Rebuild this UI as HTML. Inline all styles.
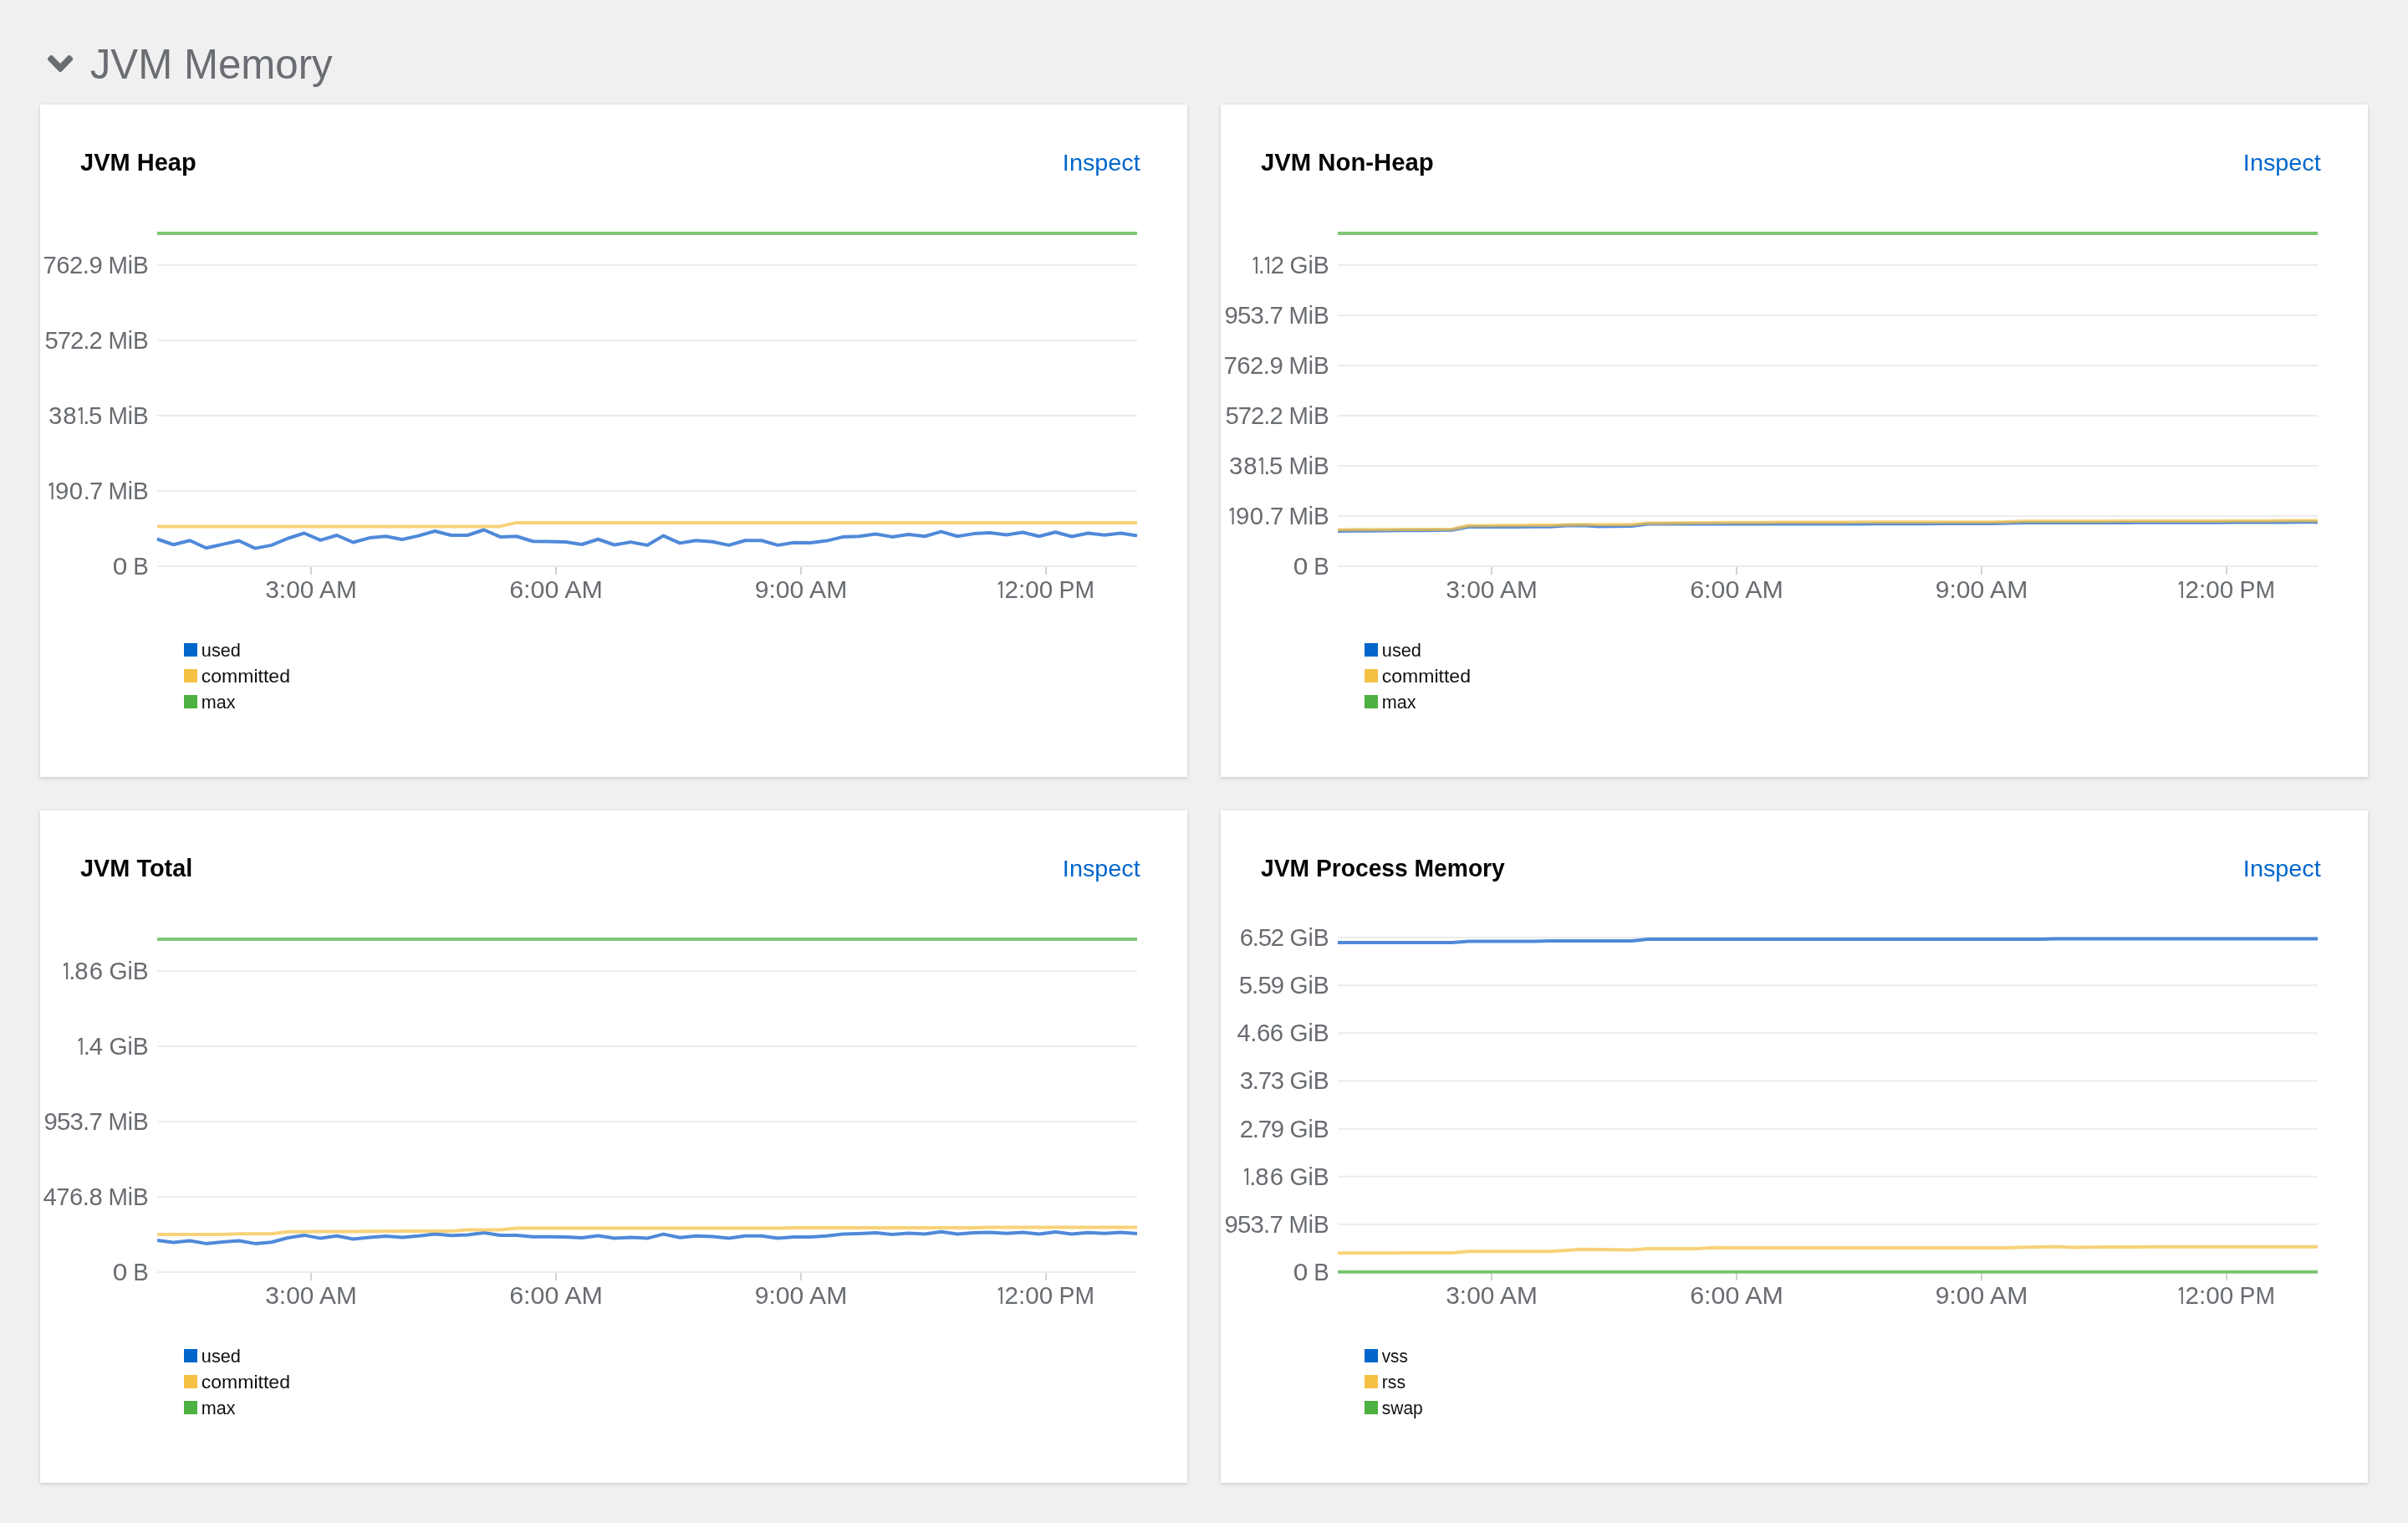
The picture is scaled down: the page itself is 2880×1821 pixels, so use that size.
<!DOCTYPE html>
<html><head><meta charset="utf-8"><title>JVM Memory</title>
<style>
html,body{margin:0;padding:0;}
body{width:2880px;height:1821px;background:#f0f0f0;position:relative;overflow:hidden;font-family:"Liberation Sans", sans-serif;}
.card{position:absolute;width:1372px;height:804px;background:#fff;box-shadow:0 2px 4px 0 rgba(3,3,3,.12),0 0 4px 0 rgba(3,3,3,.06);}
svg{position:absolute;left:0;top:0;will-change:transform;}
text{font-family:"Liberation Sans", sans-serif;}
.yl{font-size:29.3px;fill:#686c71;}
.xl{font-size:29px;fill:#686c71;}
.lg{font-size:22.7px;fill:#101010;}
.tt{font-size:29px;font-weight:bold;fill:#050505;}
.ins{font-size:28px;fill:#0066cc;}
.hd{font-size:49.5px;fill:#6a6e73;}
</style></head><body>

<div class="card" style="left:48px;top:125px"></div>
<div class="card" style="left:1460px;top:125px"></div>
<div class="card" style="left:48px;top:969px"></div>
<div class="card" style="left:1460px;top:969px"></div>
<svg width="2880" height="1821" viewBox="0 0 2880 1821">
<svg x="57" y="66" width="30.2" height="20.1" viewBox="0 153 320 206" preserveAspectRatio="none"><path fill="#6a6e73" d="M143 352.3L7 216.3c-9.4-9.4-9.4-24.6 0-33.9l22.6-22.6c9.4-9.4 24.6-9.4 33.9 0l96.4 96.4 96.4-96.4c9.4-9.4 24.6-9.4 33.9 0l22.6 22.6c9.4 9.4 9.4 24.6 0 33.9l-136 136c-9.2 9.4-24.4 9.4-33.8 0z"/></svg>
<text id="t1" x="107.75" y="93.75" class="hd" textLength="289.96" lengthAdjust="spacingAndGlyphs">JVM Memory</text>
<text id="t2" x="96.00" y="203.75" class="tt" textLength="138.61" lengthAdjust="spacingAndGlyphs">JVM Heap</text>
<text id="t3" x="1363.75" y="203.75" class="ins" text-anchor="end" textLength="92.86" lengthAdjust="spacingAndGlyphs">Inspect</text>
<text id="t4" x="1508.00" y="203.75" class="tt" textLength="206.65" lengthAdjust="spacingAndGlyphs">JVM Non-Heap</text>
<text id="t5" x="2775.75" y="203.75" class="ins" text-anchor="end" textLength="92.86" lengthAdjust="spacingAndGlyphs">Inspect</text>
<text id="t6" x="96.00" y="1047.75" class="tt" textLength="134.31" lengthAdjust="spacingAndGlyphs">JVM Total</text>
<text id="t7" x="1363.75" y="1047.75" class="ins" text-anchor="end" textLength="92.86" lengthAdjust="spacingAndGlyphs">Inspect</text>
<text id="t8" x="1508.00" y="1047.75" class="tt" textLength="291.82" lengthAdjust="spacingAndGlyphs">JVM Process Memory</text>
<text id="t9" x="2775.75" y="1047.75" class="ins" text-anchor="end" textLength="92.86" lengthAdjust="spacingAndGlyphs">Inspect</text>
<rect x="188" y="676.00" width="1172" height="2" fill="#ececec"/>
<text id="t10" x="177.75" y="687.00" class="yl" text-anchor="end" textLength="18.49" lengthAdjust="spacingAndGlyphs">B</text>
<text id="t11" x="152.35" y="687.00" class="yl" text-anchor="end" textLength="17.62" lengthAdjust="spacingAndGlyphs">0</text>
<rect x="188" y="586.00" width="1172" height="2" fill="#ececec"/>
<text id="t12" x="177.75" y="597.00" class="yl" text-anchor="end" textLength="48.37" lengthAdjust="spacingAndGlyphs">MiB</text>
<g transform="translate(58.30,597.00)" fill="none" stroke="#686c71"><path d="M4.3,-19.9 V0" stroke-width="2.1"/><path d="M4.6,-19.2 C3.0,-19.0 1.5,-18.1 0.8,-16.1" stroke-width="2.0"/></g><text x="65.95" y="597.00" class="yl">9</text><text x="82.80" y="597.00" class="yl">0</text><text x="99.65" y="597.00" class="yl">.</text><text x="107.00" y="597.00" class="yl">7</text>
<rect x="188" y="496.00" width="1172" height="2" fill="#ececec"/>
<text id="t13" x="177.75" y="507.00" class="yl" text-anchor="end" textLength="48.37" lengthAdjust="spacingAndGlyphs">MiB</text>
<text x="58.10" y="507.00" class="yl">3</text><text x="75.25" y="507.00" class="yl">8</text><g transform="translate(93.40,507.00)" fill="none" stroke="#686c71"><path d="M4.3,-19.9 V0" stroke-width="2.1"/><path d="M4.6,-19.2 C3.0,-19.0 1.5,-18.1 0.8,-16.1" stroke-width="2.0"/></g><text x="99.35" y="507.00" class="yl">.</text><text x="106.00" y="507.00" class="yl">5</text>
<rect x="188" y="406.00" width="1172" height="2" fill="#ececec"/>
<text id="t14" x="177.75" y="417.00" class="yl" text-anchor="end" textLength="48.37" lengthAdjust="spacingAndGlyphs">MiB</text>
<text id="t15" x="122.75" y="417.00" class="yl" text-anchor="end" textLength="69.20" lengthAdjust="spacing">572.2</text>
<rect x="188" y="316.00" width="1172" height="2" fill="#ececec"/>
<text id="t16" x="177.75" y="327.00" class="yl" text-anchor="end" textLength="48.37" lengthAdjust="spacingAndGlyphs">MiB</text>
<text id="t17" x="122.75" y="327.00" class="yl" text-anchor="end" textLength="71.26" lengthAdjust="spacing">762.9</text>
<rect x="371.00" y="678.00" width="2" height="9" fill="#d2d2d2"/>
<text id="t18" x="372.00" y="715.00" class="xl" text-anchor="middle" textLength="109.52" lengthAdjust="spacingAndGlyphs">3:00 AM</text>
<rect x="664.00" y="678.00" width="2" height="9" fill="#d2d2d2"/>
<text id="t19" x="665.00" y="715.00" class="xl" text-anchor="middle" textLength="111.58" lengthAdjust="spacingAndGlyphs">6:00 AM</text>
<rect x="957.00" y="678.00" width="2" height="9" fill="#d2d2d2"/>
<text id="t20" x="958.00" y="715.00" class="xl" text-anchor="middle" textLength="110.56" lengthAdjust="spacingAndGlyphs">9:00 AM</text>
<rect x="1250.00" y="678.00" width="2" height="9" fill="#d2d2d2"/>
<g transform="translate(1193.50,715.00)" fill="none" stroke="#686c71"><path d="M4.3,-19.9 V0" stroke-width="2.1"/><path d="M4.6,-19.2 C3.0,-19.0 1.5,-18.1 0.8,-16.1" stroke-width="2.0"/></g>
<text id="t21" x="1201.50" y="715.00" class="xl" textLength="57.59" lengthAdjust="spacingAndGlyphs">2:00</text>
<text id="t22" x="1266.50" y="715.00" class="xl" textLength="42.45" lengthAdjust="spacingAndGlyphs">PM</text>
<polyline points="188.00,644.50 207.53,651.25 227.07,646.25 246.60,655.25 266.13,650.90 285.67,646.50 305.20,655.60 324.73,651.90 344.27,643.75 363.80,637.50 383.33,645.90 402.87,640.00 422.40,648.50 441.93,643.10 461.47,641.25 481.00,645.00 500.53,640.60 520.07,635.00 539.60,640.00 559.13,640.00 578.67,633.50 598.20,641.90 617.73,641.25 637.27,647.25 656.80,647.50 676.33,648.10 695.87,651.00 715.40,644.75 734.93,651.50 754.47,648.10 774.00,651.90 793.53,640.60 813.07,649.40 832.60,646.25 852.13,647.75 871.67,651.90 891.20,646.25 910.73,646.25 930.27,651.90 949.80,648.75 969.33,649.00 988.87,646.60 1008.40,641.90 1027.93,641.25 1047.47,638.50 1067.00,641.90 1086.53,639.00 1106.07,641.25 1125.60,635.60 1145.13,641.25 1164.67,638.10 1184.20,636.90 1203.73,639.40 1223.27,636.50 1242.80,641.25 1262.33,636.25 1281.87,641.50 1301.40,637.50 1320.93,639.75 1340.47,637.50 1360.00,640.60" fill="none" stroke="#0b5ccb" stroke-opacity="0.72" stroke-width="4" stroke-linejoin="round" stroke-linecap="butt"/>
<polyline points="188.00,629.40 207.53,629.40 227.07,629.40 246.60,629.40 266.13,629.40 285.67,629.40 305.20,629.40 324.73,629.40 344.27,629.40 363.80,629.40 383.33,629.40 402.87,629.40 422.40,629.40 441.93,629.40 461.47,629.40 481.00,629.40 500.53,629.40 520.07,629.40 539.60,629.40 559.13,629.40 578.67,629.40 598.20,629.40 617.73,624.90 637.27,624.90 656.80,624.90 676.33,624.90 695.87,624.90 715.40,624.90 734.93,624.90 754.47,624.90 774.00,624.90 793.53,624.90 813.07,624.90 832.60,624.90 852.13,624.90 871.67,624.90 891.20,624.90 910.73,624.90 930.27,624.90 949.80,624.90 969.33,624.90 988.87,624.90 1008.40,624.90 1027.93,624.90 1047.47,624.90 1067.00,624.90 1086.53,624.90 1106.07,624.90 1125.60,624.90 1145.13,624.90 1164.67,624.90 1184.20,624.90 1203.73,624.90 1223.27,624.90 1242.80,624.90 1262.33,624.90 1281.87,624.90 1301.40,624.90 1320.93,624.90 1340.47,624.90 1360.00,624.90" fill="none" stroke="#f4c145" stroke-opacity="0.72" stroke-width="4" stroke-linejoin="round" stroke-linecap="butt"/>
<polyline points="188.00,279.00 207.53,279.00 227.07,279.00 246.60,279.00 266.13,279.00 285.67,279.00 305.20,279.00 324.73,279.00 344.27,279.00 363.80,279.00 383.33,279.00 402.87,279.00 422.40,279.00 441.93,279.00 461.47,279.00 481.00,279.00 500.53,279.00 520.07,279.00 539.60,279.00 559.13,279.00 578.67,279.00 598.20,279.00 617.73,279.00 637.27,279.00 656.80,279.00 676.33,279.00 695.87,279.00 715.40,279.00 734.93,279.00 754.47,279.00 774.00,279.00 793.53,279.00 813.07,279.00 832.60,279.00 852.13,279.00 871.67,279.00 891.20,279.00 910.73,279.00 930.27,279.00 949.80,279.00 969.33,279.00 988.87,279.00 1008.40,279.00 1027.93,279.00 1047.47,279.00 1067.00,279.00 1086.53,279.00 1106.07,279.00 1125.60,279.00 1145.13,279.00 1164.67,279.00 1184.20,279.00 1203.73,279.00 1223.27,279.00 1242.80,279.00 1262.33,279.00 1281.87,279.00 1301.40,279.00 1320.93,279.00 1340.47,279.00 1360.00,279.00" fill="none" stroke="#4cb140" stroke-opacity="0.72" stroke-width="4" stroke-linejoin="round" stroke-linecap="butt"/>
<rect x="220" y="769" width="16" height="16" fill="#0066cc"/>
<text id="t23" x="240.80" y="784.70" class="lg" textLength="47.13" lengthAdjust="spacingAndGlyphs">used</text>
<rect x="220" y="800" width="16" height="16" fill="#f4c145"/>
<text id="t24" x="240.80" y="815.70" class="lg" textLength="106.19" lengthAdjust="spacingAndGlyphs">committed</text>
<rect x="220" y="831" width="16" height="16" fill="#4cb140"/>
<text id="t25" x="240.80" y="846.70" class="lg" textLength="40.81" lengthAdjust="spacingAndGlyphs">max</text>
<rect x="1600" y="676.00" width="1172" height="2" fill="#ececec"/>
<text id="t26" x="1589.75" y="687.00" class="yl" text-anchor="end" textLength="18.49" lengthAdjust="spacingAndGlyphs">B</text>
<text id="t27" x="1564.35" y="687.00" class="yl" text-anchor="end" textLength="17.62" lengthAdjust="spacingAndGlyphs">0</text>
<rect x="1600" y="616.00" width="1172" height="2" fill="#ececec"/>
<text id="t28" x="1589.75" y="627.00" class="yl" text-anchor="end" textLength="48.37" lengthAdjust="spacingAndGlyphs">MiB</text>
<g transform="translate(1470.30,627.00)" fill="none" stroke="#686c71"><path d="M4.3,-19.9 V0" stroke-width="2.1"/><path d="M4.6,-19.2 C3.0,-19.0 1.5,-18.1 0.8,-16.1" stroke-width="2.0"/></g><text x="1477.95" y="627.00" class="yl">9</text><text x="1494.80" y="627.00" class="yl">0</text><text x="1511.65" y="627.00" class="yl">.</text><text x="1519.00" y="627.00" class="yl">7</text>
<rect x="1600" y="556.00" width="1172" height="2" fill="#ececec"/>
<text id="t29" x="1589.75" y="567.00" class="yl" text-anchor="end" textLength="48.37" lengthAdjust="spacingAndGlyphs">MiB</text>
<text x="1470.10" y="567.00" class="yl">3</text><text x="1487.25" y="567.00" class="yl">8</text><g transform="translate(1505.40,567.00)" fill="none" stroke="#686c71"><path d="M4.3,-19.9 V0" stroke-width="2.1"/><path d="M4.6,-19.2 C3.0,-19.0 1.5,-18.1 0.8,-16.1" stroke-width="2.0"/></g><text x="1511.35" y="567.00" class="yl">.</text><text x="1518.00" y="567.00" class="yl">5</text>
<rect x="1600" y="496.00" width="1172" height="2" fill="#ececec"/>
<text id="t30" x="1589.75" y="507.00" class="yl" text-anchor="end" textLength="48.37" lengthAdjust="spacingAndGlyphs">MiB</text>
<text id="t31" x="1534.75" y="507.00" class="yl" text-anchor="end" textLength="69.20" lengthAdjust="spacing">572.2</text>
<rect x="1600" y="436.00" width="1172" height="2" fill="#ececec"/>
<text id="t32" x="1589.75" y="447.00" class="yl" text-anchor="end" textLength="48.37" lengthAdjust="spacingAndGlyphs">MiB</text>
<text id="t33" x="1534.75" y="447.00" class="yl" text-anchor="end" textLength="71.26" lengthAdjust="spacing">762.9</text>
<rect x="1600" y="376.00" width="1172" height="2" fill="#ececec"/>
<text id="t34" x="1589.75" y="387.00" class="yl" text-anchor="end" textLength="48.37" lengthAdjust="spacingAndGlyphs">MiB</text>
<text id="t35" x="1534.75" y="387.00" class="yl" text-anchor="end" textLength="70.23" lengthAdjust="spacing">953.7</text>
<rect x="1600" y="316.00" width="1172" height="2" fill="#ececec"/>
<text id="t36" x="1589.75" y="327.00" class="yl" text-anchor="end" textLength="47.29" lengthAdjust="spacingAndGlyphs">GiB</text>
<g transform="translate(1498.60,327.00)" fill="none" stroke="#686c71"><path d="M4.3,-19.9 V0" stroke-width="2.1"/><path d="M4.6,-19.2 C3.0,-19.0 1.5,-18.1 0.8,-16.1" stroke-width="2.0"/></g><text x="1504.78" y="327.00" class="yl">.</text><g transform="translate(1512.67,327.00)" fill="none" stroke="#686c71"><path d="M4.3,-19.9 V0" stroke-width="2.1"/><path d="M4.6,-19.2 C3.0,-19.0 1.5,-18.1 0.8,-16.1" stroke-width="2.0"/></g><text x="1519.85" y="327.00" class="yl">2</text>
<rect x="1783.00" y="678.00" width="2" height="9" fill="#d2d2d2"/>
<text id="t37" x="1784.00" y="715.00" class="xl" text-anchor="middle" textLength="109.52" lengthAdjust="spacingAndGlyphs">3:00 AM</text>
<rect x="2076.00" y="678.00" width="2" height="9" fill="#d2d2d2"/>
<text id="t38" x="2077.00" y="715.00" class="xl" text-anchor="middle" textLength="111.58" lengthAdjust="spacingAndGlyphs">6:00 AM</text>
<rect x="2369.00" y="678.00" width="2" height="9" fill="#d2d2d2"/>
<text id="t39" x="2370.00" y="715.00" class="xl" text-anchor="middle" textLength="110.56" lengthAdjust="spacingAndGlyphs">9:00 AM</text>
<rect x="2662.00" y="678.00" width="2" height="9" fill="#d2d2d2"/>
<g transform="translate(2605.50,715.00)" fill="none" stroke="#686c71"><path d="M4.3,-19.9 V0" stroke-width="2.1"/><path d="M4.6,-19.2 C3.0,-19.0 1.5,-18.1 0.8,-16.1" stroke-width="2.0"/></g>
<text id="t40" x="2613.50" y="715.00" class="xl" textLength="57.59" lengthAdjust="spacingAndGlyphs">2:00</text>
<text id="t41" x="2678.50" y="715.00" class="xl" textLength="42.45" lengthAdjust="spacingAndGlyphs">PM</text>
<polyline points="1600.00,635.00 1619.53,634.83 1639.07,634.66 1658.60,634.49 1678.13,634.31 1697.67,634.14 1717.20,633.97 1736.73,633.80 1756.27,630.00 1775.80,629.96 1795.33,629.92 1814.87,629.88 1834.40,629.84 1853.93,629.80 1873.47,628.50 1893.00,628.20 1912.53,629.40 1932.07,629.20 1951.60,629.00 1971.13,626.60 1990.67,626.59 2010.20,626.58 2029.73,626.57 2049.27,626.56 2068.80,626.55 2088.33,626.55 2107.87,626.54 2127.40,626.53 2146.93,626.52 2166.47,626.51 2186.00,626.50 2205.53,626.44 2225.07,626.38 2244.60,626.32 2264.13,626.26 2283.67,626.20 2303.20,626.14 2322.73,626.08 2342.27,626.02 2361.80,625.96 2381.33,625.90 2400.87,625.60 2420.40,625.10 2439.93,625.07 2459.47,625.03 2479.00,625.00 2498.53,624.96 2518.07,624.92 2537.60,624.89 2557.13,624.86 2576.67,624.82 2596.20,624.78 2615.73,624.75 2635.27,624.69 2654.80,624.64 2674.33,624.58 2693.87,624.52 2713.40,624.47 2732.93,624.41 2752.47,624.36 2772.00,624.30" fill="none" stroke="#0b5ccb" stroke-opacity="0.72" stroke-width="4" stroke-linejoin="round" stroke-linecap="butt"/>
<polyline points="1600.00,633.40 1619.53,633.31 1639.07,633.23 1658.60,633.14 1678.13,633.06 1697.67,632.97 1717.20,632.89 1736.73,632.80 1756.27,628.50 1775.80,628.40 1795.33,628.30 1814.87,628.20 1834.40,628.10 1853.93,628.00 1873.47,627.60 1893.00,627.20 1912.53,627.20 1932.07,627.20 1951.60,627.20 1971.13,625.60 1990.67,625.40 2010.20,625.20 2029.73,625.00 2049.27,624.92 2068.80,624.85 2088.33,624.77 2107.87,624.70 2127.40,624.62 2146.93,624.55 2166.47,624.48 2186.00,624.40 2205.53,624.38 2225.07,624.37 2244.60,624.36 2264.13,624.34 2283.67,624.33 2303.20,624.31 2322.73,624.29 2342.27,624.28 2361.80,624.26 2381.33,624.25 2400.87,623.90 2420.40,623.30 2439.93,623.27 2459.47,623.24 2479.00,623.21 2498.53,623.18 2518.07,623.15 2537.60,623.12 2557.13,623.09 2576.67,623.06 2596.20,623.03 2615.73,623.00 2635.27,622.94 2654.80,622.88 2674.33,622.81 2693.87,622.75 2713.40,622.69 2732.93,622.62 2752.47,622.56 2772.00,622.50" fill="none" stroke="#f4c145" stroke-opacity="0.72" stroke-width="4" stroke-linejoin="round" stroke-linecap="butt"/>
<polyline points="1600.00,279.00 1619.53,279.00 1639.07,279.00 1658.60,279.00 1678.13,279.00 1697.67,279.00 1717.20,279.00 1736.73,279.00 1756.27,279.00 1775.80,279.00 1795.33,279.00 1814.87,279.00 1834.40,279.00 1853.93,279.00 1873.47,279.00 1893.00,279.00 1912.53,279.00 1932.07,279.00 1951.60,279.00 1971.13,279.00 1990.67,279.00 2010.20,279.00 2029.73,279.00 2049.27,279.00 2068.80,279.00 2088.33,279.00 2107.87,279.00 2127.40,279.00 2146.93,279.00 2166.47,279.00 2186.00,279.00 2205.53,279.00 2225.07,279.00 2244.60,279.00 2264.13,279.00 2283.67,279.00 2303.20,279.00 2322.73,279.00 2342.27,279.00 2361.80,279.00 2381.33,279.00 2400.87,279.00 2420.40,279.00 2439.93,279.00 2459.47,279.00 2479.00,279.00 2498.53,279.00 2518.07,279.00 2537.60,279.00 2557.13,279.00 2576.67,279.00 2596.20,279.00 2615.73,279.00 2635.27,279.00 2654.80,279.00 2674.33,279.00 2693.87,279.00 2713.40,279.00 2732.93,279.00 2752.47,279.00 2772.00,279.00" fill="none" stroke="#4cb140" stroke-opacity="0.72" stroke-width="4" stroke-linejoin="round" stroke-linecap="butt"/>
<rect x="1632" y="769" width="16" height="16" fill="#0066cc"/>
<text id="t42" x="1652.80" y="784.70" class="lg" textLength="47.13" lengthAdjust="spacingAndGlyphs">used</text>
<rect x="1632" y="800" width="16" height="16" fill="#f4c145"/>
<text id="t43" x="1652.80" y="815.70" class="lg" textLength="106.19" lengthAdjust="spacingAndGlyphs">committed</text>
<rect x="1632" y="831" width="16" height="16" fill="#4cb140"/>
<text id="t44" x="1652.80" y="846.70" class="lg" textLength="40.81" lengthAdjust="spacingAndGlyphs">max</text>
<rect x="188" y="1520.00" width="1172" height="2" fill="#ececec"/>
<text id="t45" x="177.75" y="1531.00" class="yl" text-anchor="end" textLength="18.49" lengthAdjust="spacingAndGlyphs">B</text>
<text id="t46" x="152.35" y="1531.00" class="yl" text-anchor="end" textLength="17.62" lengthAdjust="spacingAndGlyphs">0</text>
<rect x="188" y="1430.00" width="1172" height="2" fill="#ececec"/>
<text id="t47" x="177.75" y="1441.00" class="yl" text-anchor="end" textLength="48.37" lengthAdjust="spacingAndGlyphs">MiB</text>
<text id="t48" x="122.75" y="1441.00" class="yl" text-anchor="end" textLength="71.31" lengthAdjust="spacing">476.8</text>
<rect x="188" y="1340.00" width="1172" height="2" fill="#ececec"/>
<text id="t49" x="177.75" y="1351.00" class="yl" text-anchor="end" textLength="48.37" lengthAdjust="spacingAndGlyphs">MiB</text>
<text id="t50" x="122.75" y="1351.00" class="yl" text-anchor="end" textLength="70.23" lengthAdjust="spacing">953.7</text>
<rect x="188" y="1250.00" width="1172" height="2" fill="#ececec"/>
<text id="t51" x="177.75" y="1261.00" class="yl" text-anchor="end" textLength="47.29" lengthAdjust="spacingAndGlyphs">GiB</text>
<g transform="translate(93.30,1261.00)" fill="none" stroke="#686c71"><path d="M4.3,-19.9 V0" stroke-width="2.1"/><path d="M4.6,-19.2 C3.0,-19.0 1.5,-18.1 0.8,-16.1" stroke-width="2.0"/></g><text x="99.72" y="1261.00" class="yl">.</text><text x="106.85" y="1261.00" class="yl">4</text>
<rect x="188" y="1160.00" width="1172" height="2" fill="#ececec"/>
<text id="t52" x="177.75" y="1171.00" class="yl" text-anchor="end" textLength="47.29" lengthAdjust="spacingAndGlyphs">GiB</text>
<g transform="translate(75.80,1171.00)" fill="none" stroke="#686c71"><path d="M4.3,-19.9 V0" stroke-width="2.1"/><path d="M4.6,-19.2 C3.0,-19.0 1.5,-18.1 0.8,-16.1" stroke-width="2.0"/></g><text x="82.18" y="1171.00" class="yl">.</text><text x="89.27" y="1171.00" class="yl">8</text><text x="106.85" y="1171.00" class="yl">6</text>
<rect x="371.00" y="1522.00" width="2" height="9" fill="#d2d2d2"/>
<text id="t53" x="372.00" y="1559.00" class="xl" text-anchor="middle" textLength="109.52" lengthAdjust="spacingAndGlyphs">3:00 AM</text>
<rect x="664.00" y="1522.00" width="2" height="9" fill="#d2d2d2"/>
<text id="t54" x="665.00" y="1559.00" class="xl" text-anchor="middle" textLength="111.58" lengthAdjust="spacingAndGlyphs">6:00 AM</text>
<rect x="957.00" y="1522.00" width="2" height="9" fill="#d2d2d2"/>
<text id="t55" x="958.00" y="1559.00" class="xl" text-anchor="middle" textLength="110.56" lengthAdjust="spacingAndGlyphs">9:00 AM</text>
<rect x="1250.00" y="1522.00" width="2" height="9" fill="#d2d2d2"/>
<g transform="translate(1193.50,1559.00)" fill="none" stroke="#686c71"><path d="M4.3,-19.9 V0" stroke-width="2.1"/><path d="M4.6,-19.2 C3.0,-19.0 1.5,-18.1 0.8,-16.1" stroke-width="2.0"/></g>
<text id="t56" x="1201.50" y="1559.00" class="xl" textLength="57.59" lengthAdjust="spacingAndGlyphs">2:00</text>
<text id="t57" x="1266.50" y="1559.00" class="xl" textLength="42.45" lengthAdjust="spacingAndGlyphs">PM</text>
<polyline points="188.00,1483.10 207.53,1485.60 227.07,1483.50 246.60,1486.90 266.13,1485.00 285.67,1483.50 305.20,1486.90 324.73,1485.25 344.27,1480.00 363.80,1476.90 383.33,1480.60 402.87,1477.75 422.40,1481.50 441.93,1479.40 461.47,1478.10 481.00,1479.40 500.53,1477.75 520.07,1475.60 539.60,1477.25 559.13,1476.50 578.67,1474.00 598.20,1476.90 617.73,1476.90 637.27,1478.75 656.80,1478.75 676.33,1479.00 695.87,1480.00 715.40,1477.50 734.93,1480.60 754.47,1479.40 774.00,1480.60 793.53,1475.60 813.07,1479.75 832.60,1477.75 852.13,1478.50 871.67,1480.60 891.20,1477.75 910.73,1477.75 930.27,1480.60 949.80,1479.00 969.33,1479.00 988.87,1477.75 1008.40,1475.60 1027.93,1475.00 1047.47,1474.00 1067.00,1476.00 1086.53,1474.40 1106.07,1475.60 1125.60,1472.75 1145.13,1475.60 1164.67,1474.00 1184.20,1473.50 1203.73,1474.75 1223.27,1473.50 1242.80,1475.60 1262.33,1473.10 1281.87,1475.60 1301.40,1473.75 1320.93,1474.75 1340.47,1473.50 1360.00,1475.00" fill="none" stroke="#0b5ccb" stroke-opacity="0.72" stroke-width="4" stroke-linejoin="round" stroke-linecap="butt"/>
<polyline points="188.00,1475.90 207.53,1475.90 227.07,1475.90 246.60,1475.90 266.13,1475.90 285.67,1475.25 305.20,1475.25 324.73,1475.25 344.27,1472.75 363.80,1472.70 383.33,1472.60 402.87,1472.50 422.40,1472.40 441.93,1472.30 461.47,1472.20 481.00,1472.10 500.53,1472.10 520.07,1472.10 539.60,1472.10 559.13,1470.60 578.67,1470.60 598.20,1470.60 617.73,1468.60 637.27,1468.60 656.80,1468.60 676.33,1468.60 695.87,1468.60 715.40,1468.60 734.93,1468.60 754.47,1468.60 774.00,1468.60 793.53,1468.60 813.07,1468.60 832.60,1468.60 852.13,1468.60 871.67,1468.60 891.20,1468.60 910.73,1468.60 930.27,1468.60 949.80,1468.00 969.33,1468.00 988.87,1468.00 1008.40,1468.00 1027.93,1468.00 1047.47,1468.00 1067.00,1468.00 1086.53,1468.00 1106.07,1468.00 1125.60,1468.00 1145.13,1468.00 1164.67,1468.00 1184.20,1467.50 1203.73,1467.50 1223.27,1467.50 1242.80,1467.50 1262.33,1467.50 1281.87,1467.50 1301.40,1467.50 1320.93,1467.50 1340.47,1467.50 1360.00,1467.50" fill="none" stroke="#f4c145" stroke-opacity="0.72" stroke-width="4" stroke-linejoin="round" stroke-linecap="butt"/>
<polyline points="188.00,1123.00 207.53,1123.00 227.07,1123.00 246.60,1123.00 266.13,1123.00 285.67,1123.00 305.20,1123.00 324.73,1123.00 344.27,1123.00 363.80,1123.00 383.33,1123.00 402.87,1123.00 422.40,1123.00 441.93,1123.00 461.47,1123.00 481.00,1123.00 500.53,1123.00 520.07,1123.00 539.60,1123.00 559.13,1123.00 578.67,1123.00 598.20,1123.00 617.73,1123.00 637.27,1123.00 656.80,1123.00 676.33,1123.00 695.87,1123.00 715.40,1123.00 734.93,1123.00 754.47,1123.00 774.00,1123.00 793.53,1123.00 813.07,1123.00 832.60,1123.00 852.13,1123.00 871.67,1123.00 891.20,1123.00 910.73,1123.00 930.27,1123.00 949.80,1123.00 969.33,1123.00 988.87,1123.00 1008.40,1123.00 1027.93,1123.00 1047.47,1123.00 1067.00,1123.00 1086.53,1123.00 1106.07,1123.00 1125.60,1123.00 1145.13,1123.00 1164.67,1123.00 1184.20,1123.00 1203.73,1123.00 1223.27,1123.00 1242.80,1123.00 1262.33,1123.00 1281.87,1123.00 1301.40,1123.00 1320.93,1123.00 1340.47,1123.00 1360.00,1123.00" fill="none" stroke="#4cb140" stroke-opacity="0.72" stroke-width="4" stroke-linejoin="round" stroke-linecap="butt"/>
<rect x="220" y="1613" width="16" height="16" fill="#0066cc"/>
<text id="t58" x="240.80" y="1628.70" class="lg" textLength="47.13" lengthAdjust="spacingAndGlyphs">used</text>
<rect x="220" y="1644" width="16" height="16" fill="#f4c145"/>
<text id="t59" x="240.80" y="1659.70" class="lg" textLength="106.19" lengthAdjust="spacingAndGlyphs">committed</text>
<rect x="220" y="1675" width="16" height="16" fill="#4cb140"/>
<text id="t60" x="240.80" y="1690.70" class="lg" textLength="40.81" lengthAdjust="spacingAndGlyphs">max</text>
<rect x="1600" y="1520.00" width="1172" height="2" fill="#ececec"/>
<text id="t61" x="1589.75" y="1531.00" class="yl" text-anchor="end" textLength="18.49" lengthAdjust="spacingAndGlyphs">B</text>
<text id="t62" x="1564.35" y="1531.00" class="yl" text-anchor="end" textLength="17.62" lengthAdjust="spacingAndGlyphs">0</text>
<rect x="1600" y="1462.86" width="1172" height="2" fill="#ececec"/>
<text id="t63" x="1589.75" y="1473.86" class="yl" text-anchor="end" textLength="48.37" lengthAdjust="spacingAndGlyphs">MiB</text>
<text id="t64" x="1534.75" y="1473.86" class="yl" text-anchor="end" textLength="70.23" lengthAdjust="spacing">953.7</text>
<rect x="1600" y="1405.71" width="1172" height="2" fill="#ececec"/>
<text id="t65" x="1589.75" y="1416.71" class="yl" text-anchor="end" textLength="47.29" lengthAdjust="spacingAndGlyphs">GiB</text>
<g transform="translate(1487.80,1416.71)" fill="none" stroke="#686c71"><path d="M4.3,-19.9 V0" stroke-width="2.1"/><path d="M4.6,-19.2 C3.0,-19.0 1.5,-18.1 0.8,-16.1" stroke-width="2.0"/></g><text x="1494.18" y="1416.71" class="yl">.</text><text x="1501.27" y="1416.71" class="yl">8</text><text x="1518.85" y="1416.71" class="yl">6</text>
<rect x="1600" y="1348.57" width="1172" height="2" fill="#ececec"/>
<text id="t66" x="1589.75" y="1359.57" class="yl" text-anchor="end" textLength="47.29" lengthAdjust="spacingAndGlyphs">GiB</text>
<text id="t67" x="1536.10" y="1359.57" class="yl" text-anchor="end" textLength="53.37" lengthAdjust="spacing">2.79</text>
<rect x="1600" y="1291.43" width="1172" height="2" fill="#ececec"/>
<text id="t68" x="1589.75" y="1302.43" class="yl" text-anchor="end" textLength="47.29" lengthAdjust="spacingAndGlyphs">GiB</text>
<text id="t69" x="1536.10" y="1302.43" class="yl" text-anchor="end" textLength="53.38" lengthAdjust="spacing">3.73</text>
<rect x="1600" y="1234.29" width="1172" height="2" fill="#ececec"/>
<text id="t70" x="1589.75" y="1245.29" class="yl" text-anchor="end" textLength="47.29" lengthAdjust="spacingAndGlyphs">GiB</text>
<text id="t71" x="1535.10" y="1245.29" class="yl" text-anchor="end" textLength="55.57" lengthAdjust="spacing">4.66</text>
<rect x="1600" y="1177.14" width="1172" height="2" fill="#ececec"/>
<text id="t72" x="1589.75" y="1188.14" class="yl" text-anchor="end" textLength="47.29" lengthAdjust="spacingAndGlyphs">GiB</text>
<text id="t73" x="1536.10" y="1188.14" class="yl" text-anchor="end" textLength="54.41" lengthAdjust="spacing">5.59</text>
<rect x="1600" y="1120.00" width="1172" height="2" fill="#ececec"/>
<text id="t74" x="1589.75" y="1131.00" class="yl" text-anchor="end" textLength="47.29" lengthAdjust="spacingAndGlyphs">GiB</text>
<text id="t75" x="1536.10" y="1131.00" class="yl" text-anchor="end" textLength="53.37" lengthAdjust="spacing">6.52</text>
<rect x="1783.00" y="1522.00" width="2" height="9" fill="#d2d2d2"/>
<text id="t76" x="1784.00" y="1559.00" class="xl" text-anchor="middle" textLength="109.52" lengthAdjust="spacingAndGlyphs">3:00 AM</text>
<rect x="2076.00" y="1522.00" width="2" height="9" fill="#d2d2d2"/>
<text id="t77" x="2077.00" y="1559.00" class="xl" text-anchor="middle" textLength="111.58" lengthAdjust="spacingAndGlyphs">6:00 AM</text>
<rect x="2369.00" y="1522.00" width="2" height="9" fill="#d2d2d2"/>
<text id="t78" x="2370.00" y="1559.00" class="xl" text-anchor="middle" textLength="110.56" lengthAdjust="spacingAndGlyphs">9:00 AM</text>
<rect x="2662.00" y="1522.00" width="2" height="9" fill="#d2d2d2"/>
<g transform="translate(2605.50,1559.00)" fill="none" stroke="#686c71"><path d="M4.3,-19.9 V0" stroke-width="2.1"/><path d="M4.6,-19.2 C3.0,-19.0 1.5,-18.1 0.8,-16.1" stroke-width="2.0"/></g>
<text id="t79" x="2613.50" y="1559.00" class="xl" textLength="57.59" lengthAdjust="spacingAndGlyphs">2:00</text>
<text id="t80" x="2678.50" y="1559.00" class="xl" textLength="42.45" lengthAdjust="spacingAndGlyphs">PM</text>
<polyline points="1600.00,1127.00 1619.53,1127.00 1639.07,1127.00 1658.60,1127.00 1678.13,1127.00 1697.67,1127.00 1717.20,1127.00 1736.73,1127.00 1756.27,1125.50 1775.80,1125.50 1795.33,1125.50 1814.87,1125.50 1834.40,1125.50 1853.93,1125.00 1873.47,1125.00 1893.00,1125.00 1912.53,1125.00 1932.07,1125.00 1951.60,1125.00 1971.13,1123.00 1990.67,1123.00 2010.20,1123.00 2029.73,1123.00 2049.27,1123.00 2068.80,1123.00 2088.33,1123.00 2107.87,1123.00 2127.40,1123.00 2146.93,1123.00 2166.47,1123.00 2186.00,1123.00 2205.53,1123.00 2225.07,1123.00 2244.60,1123.00 2264.13,1123.00 2283.67,1123.00 2303.20,1123.00 2322.73,1123.00 2342.27,1123.00 2361.80,1123.00 2381.33,1123.00 2400.87,1123.00 2420.40,1123.00 2439.93,1123.00 2459.47,1122.50 2479.00,1122.50 2498.53,1122.50 2518.07,1122.50 2537.60,1122.50 2557.13,1122.50 2576.67,1122.50 2596.20,1122.50 2615.73,1122.50 2635.27,1122.50 2654.80,1122.50 2674.33,1122.50 2693.87,1122.50 2713.40,1122.50 2732.93,1122.50 2752.47,1122.50 2772.00,1122.50" fill="none" stroke="#0b5ccb" stroke-opacity="0.72" stroke-width="4" stroke-linejoin="round" stroke-linecap="butt"/>
<polyline points="1600.00,1498.25 1619.53,1498.25 1639.07,1498.25 1658.60,1498.20 1678.13,1498.10 1697.67,1498.10 1717.20,1498.00 1736.73,1498.00 1756.27,1496.25 1775.80,1496.25 1795.33,1496.25 1814.87,1496.25 1834.40,1496.25 1853.93,1496.25 1873.47,1495.00 1893.00,1493.75 1912.53,1494.00 1932.07,1494.30 1951.60,1494.50 1971.13,1493.00 1990.67,1493.00 2010.20,1493.00 2029.73,1493.00 2049.27,1491.75 2068.80,1492.00 2088.33,1492.00 2107.87,1492.00 2127.40,1492.00 2146.93,1492.00 2166.47,1492.00 2186.00,1492.00 2205.53,1492.00 2225.07,1492.00 2244.60,1492.00 2264.13,1492.00 2283.67,1492.00 2303.20,1492.00 2322.73,1492.00 2342.27,1492.00 2361.80,1492.00 2381.33,1492.00 2400.87,1492.00 2420.40,1491.20 2439.93,1491.00 2459.47,1490.50 2479.00,1491.50 2498.53,1491.30 2518.07,1491.10 2537.60,1491.00 2557.13,1490.90 2576.67,1490.75 2596.20,1490.75 2615.73,1490.75 2635.27,1490.75 2654.80,1490.75 2674.33,1490.75 2693.87,1490.75 2713.40,1490.75 2732.93,1490.75 2752.47,1490.75 2772.00,1490.75" fill="none" stroke="#f4c145" stroke-opacity="0.72" stroke-width="4" stroke-linejoin="round" stroke-linecap="butt"/>
<polyline points="1600.00,1520.75 1619.53,1520.75 1639.07,1520.75 1658.60,1520.75 1678.13,1520.75 1697.67,1520.75 1717.20,1520.75 1736.73,1520.75 1756.27,1520.75 1775.80,1520.75 1795.33,1520.75 1814.87,1520.75 1834.40,1520.75 1853.93,1520.75 1873.47,1520.75 1893.00,1520.75 1912.53,1520.75 1932.07,1520.75 1951.60,1520.75 1971.13,1520.75 1990.67,1520.75 2010.20,1520.75 2029.73,1520.75 2049.27,1520.75 2068.80,1520.75 2088.33,1520.75 2107.87,1520.75 2127.40,1520.75 2146.93,1520.75 2166.47,1520.75 2186.00,1520.75 2205.53,1520.75 2225.07,1520.75 2244.60,1520.75 2264.13,1520.75 2283.67,1520.75 2303.20,1520.75 2322.73,1520.75 2342.27,1520.75 2361.80,1520.75 2381.33,1520.75 2400.87,1520.75 2420.40,1520.75 2439.93,1520.75 2459.47,1520.75 2479.00,1520.75 2498.53,1520.75 2518.07,1520.75 2537.60,1520.75 2557.13,1520.75 2576.67,1520.75 2596.20,1520.75 2615.73,1520.75 2635.27,1520.75 2654.80,1520.75 2674.33,1520.75 2693.87,1520.75 2713.40,1520.75 2732.93,1520.75 2752.47,1520.75 2772.00,1520.75" fill="none" stroke="#4cb140" stroke-opacity="0.72" stroke-width="4" stroke-linejoin="round" stroke-linecap="butt"/>
<rect x="1632" y="1613" width="16" height="16" fill="#0066cc"/>
<text id="t81" x="1652.80" y="1628.70" class="lg" textLength="30.96" lengthAdjust="spacingAndGlyphs">vss</text>
<rect x="1632" y="1644" width="16" height="16" fill="#f4c145"/>
<text id="t82" x="1652.80" y="1659.70" class="lg" textLength="28.18" lengthAdjust="spacingAndGlyphs">rss</text>
<rect x="1632" y="1675" width="16" height="16" fill="#4cb140"/>
<text id="t83" x="1652.80" y="1690.70" class="lg" textLength="48.92" lengthAdjust="spacingAndGlyphs">swap</text>
</svg>
</body></html>
